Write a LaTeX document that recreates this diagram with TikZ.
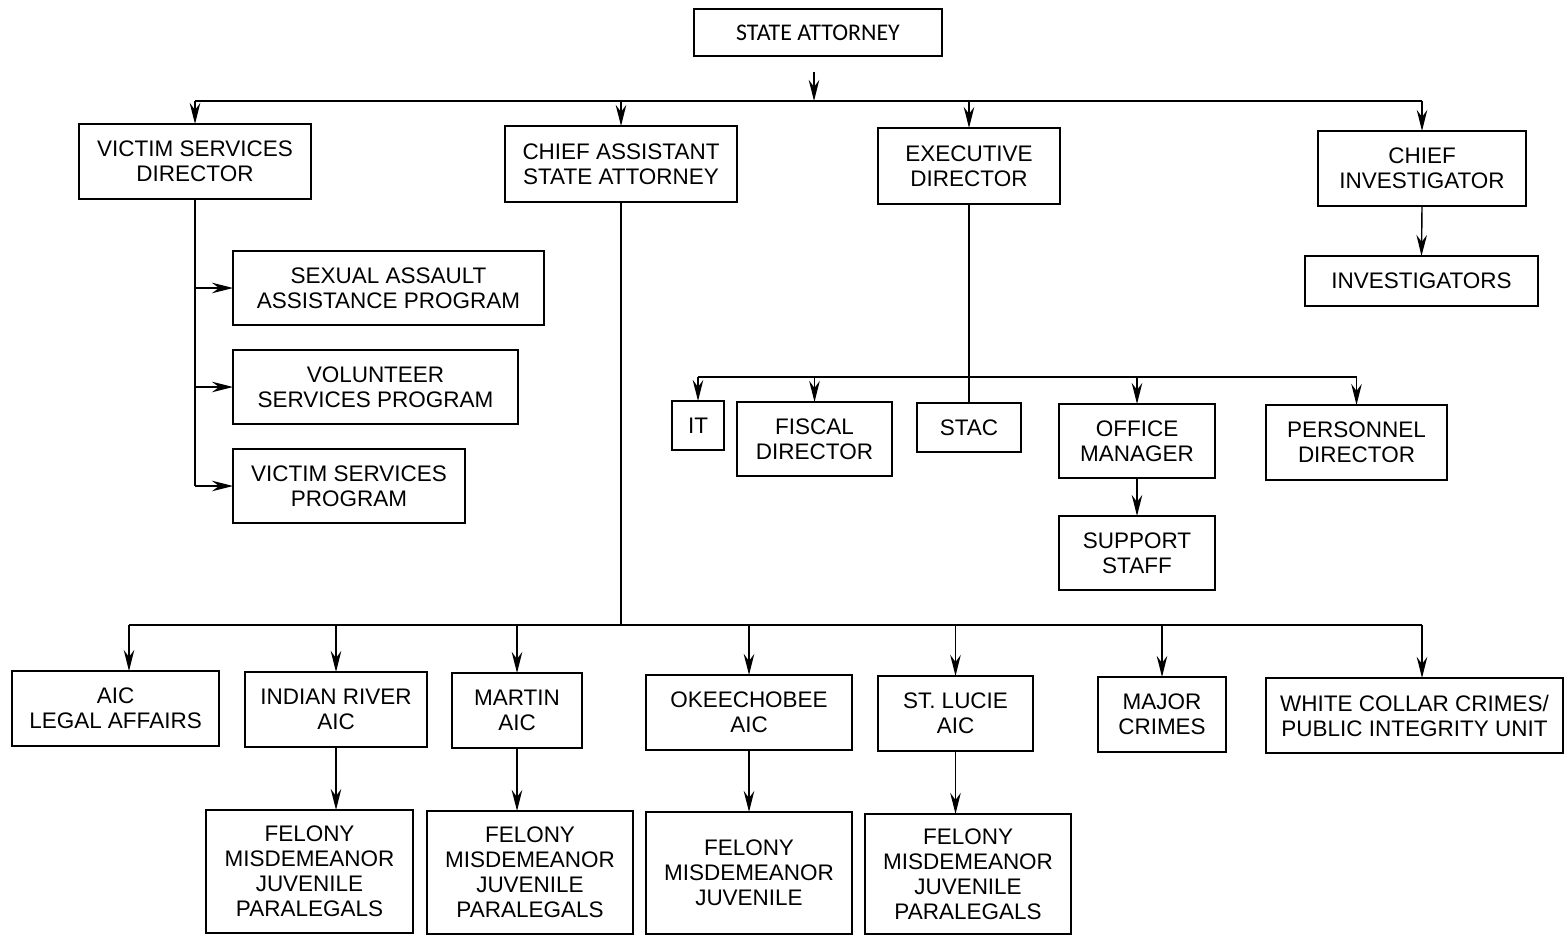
\documentclass[tikz,border=0pt]{standalone}
\usepackage{fontspec}
\setmainfont{Liberation Sans}
\newfontfamily\titlefont{Carlito}
\usetikzlibrary{arrows.meta}

% \bx{name}{left}{top}{right}{bottom}{text}: a framed box given by its edges
\newcommand\bx[6]{%
  \node[box, minimum width={(#4-#2)*0.02cm}, minimum height={(#5-#3)*0.02cm}]
    (#1) at ({(#2+#4)/2},{(#3+#5)/2}) {#6};}

\begin{document}
\begin{tikzpicture}[x=0.02cm, y=-0.02cm,
  box/.style={draw, line width=0.8pt, inner sep=0pt, outer sep=0pt,
    align=center, font=\fontsize{12.8}{14.2}\selectfont},
  link/.style={line width=0.8pt},
  arr/.style={link, -{Stealth[length=12pt, width=6pt, inset=4pt]}}]

\fill[white] (0,0) rectangle (1565,936);
\useasboundingbox (0,0) rectangle (1565,936);

% top of the office
\bx{sa}{694}{9}{942}{56}{\titlefont\fontsize{13.6}{16}\selectfont STATE ATTORNEY}

% first level
\bx{vsd}{79}{124}{311}{199}{VICTIM SERVICES\\DIRECTOR}
\bx{casa}{505}{126}{737}{202}{CHIEF ASSISTANT\\STATE ATTORNEY}
\bx{ed}{878}{128}{1060}{204}{EXECUTIVE\\DIRECTOR}
\bx{ci}{1318}{131}{1526}{206}{CHIEF\\INVESTIGATOR}
\bx{inv}{1305}{256}{1538}{306}{INVESTIGATORS}

% victim services programs
\bx{saap}{233}{251}{544}{325}{SEXUAL ASSAULT\\ASSISTANCE PROGRAM}
\bx{vol}{233}{350}{518}{424}{VOLUNTEER\\SERVICES PROGRAM}
\bx{vsp}{233}{449}{465}{523}{VICTIM SERVICES\\PROGRAM}

% executive director's units
\bx{it}{672}{401}{724}{450}{IT}
\bx{fd}{737}{402}{892}{476}{FISCAL\\DIRECTOR}
\bx{stac}{917}{403}{1021}{452}{STAC}
\bx{om}{1059}{404}{1215}{478}{OFFICE\\MANAGER}
\bx{ss}{1059}{516}{1215}{590}{SUPPORT\\STAFF}
\bx{pd}{1266}{405}{1447}{480}{PERSONNEL\\DIRECTOR}

% chief assistant's units
\bx{ala}{12}{671}{219}{746}{AIC\\LEGAL AFFAIRS}
\bx{ir}{245}{672}{427}{747}{INDIAN RIVER\\AIC}
\bx{mar}{452}{673}{582}{748}{MARTIN\\AIC}
\bx{oke}{646}{675}{852}{750}{OKEECHOBEE\\AIC}
\bx{stl}{878}{676}{1033}{751}{ST. LUCIE\\AIC}
\bx{maj}{1098}{677}{1226}{752}{MAJOR\\CRIMES}
\bx{wc}{1266}{678}{1563}{753}{WHITE COLLAR CRIMES/\\PUBLIC INTEGRITY UNIT}

% county divisions
\bx{irf}{206}{810}{413}{933}{FELONY\\MISDEMEANOR\\JUVENILE\\PARALEGALS}
\bx{marf}{427}{811}{633}{934}{FELONY\\MISDEMEANOR\\JUVENILE\\PARALEGALS}
\bx{okef}{646}{812}{852}{934}{FELONY\\MISDEMEANOR\\JUVENILE}
\bx{stlf}{865}{814}{1071}{934}{FELONY\\MISDEMEANOR\\JUVENILE\\PARALEGALS}

% bus lines and entry points
\coordinate (satail) at (814,72);
\coordinate (topbus) at (814,101);
\coordinate (exbus) at (968,377);
\coordinate (lowbus) at (621,625);
\coordinate (alaIn) at ([xshift=0.27cm]ala.north);
\coordinate (wcIn) at ([xshift=0.15cm]wc.north);

% state attorney to first level
\draw[arr] (satail) -- (topbus);
\draw[link] (topbus -| vsd.north) -- (topbus -| ci.north);
\foreach \n in {vsd,casa,ed,ci}
  \draw[arr] (topbus -| \n.north) -- (\n.north);
\draw[arr] (ci.south) -- (inv.north);

% victim services director
\draw[link] (vsd.south) -- (vsd.south |- vsp.west);
\foreach \n in {saap,vol,vsp}
  \draw[arr] (vsd.south |- \n.west) -- (\n.west);

% executive director
\draw[link] (ed.south) -- (stac.north);
\draw[link] (exbus -| it.north) -- (exbus -| pd.north);
\foreach \n in {it,fd,om,pd}
  \draw[arr] (exbus -| \n.north) -- (\n.north);
\draw[arr] (om.south) -- (ss.north);

% chief assistant state attorney
\draw[link] (casa.south) -- (lowbus);
\draw[link] (lowbus -| alaIn) -- (lowbus -| wcIn);
\draw[arr] (lowbus -| alaIn) -- (alaIn);
\draw[arr] (lowbus -| wcIn) -- (wcIn);
\foreach \n in {ir,mar,oke,stl,maj}
  \draw[arr] (lowbus -| \n.north) -- (\n.north);

% divisions below the county offices
\draw[arr] (ir.south) -- (ir.south |- irf.north);
\draw[arr] (mar.south) -- (mar.south |- marf.north);
\draw[arr] (oke.south) -- (oke.south |- okef.north);
\draw[arr] (stl.south) -- (stl.south |- stlf.north);

\end{tikzpicture}
\end{document}
